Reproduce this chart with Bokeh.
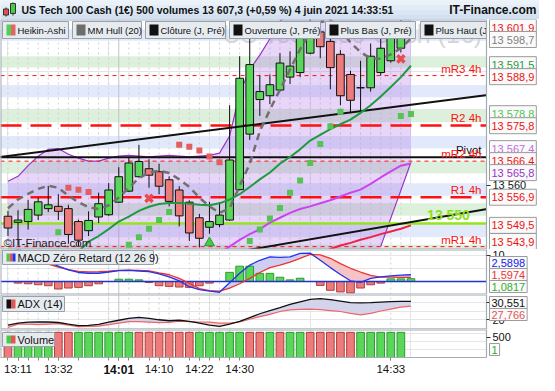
import math
import numpy as np
from bokeh.plotting import figure
from bokeh.models import Range1d, LinearAxis, FixedTicker, Label
from bokeh.layouts import column
from bokeh.embed import file_html
from bokeh.resources import INLINE
from bokeh.core.properties import value

nan = float("nan")

# ======================= DATA =======================
TITLE = "US Tech 100 Cash (1€) 500 volumes 13 607,3 (+0,59 %) 4 juin 2021 14:33:51"
SITE = "IT-Finance.com"
WATERMARK = "US Tech 100 Cash (1€)"
COPYRIGHT = "©IT-Finance.com"
legend_names = ["Heikin-Ashi", "MM Hull (20)", "Clôture (J, Pré)", "Ouverture (J, Pré)",
                "Plus Bas (J, Pré)", "Plus Haut (J, Pré)"]

candle_idx = list(range(40))
ind_idx = list(range(41))

ha_open = [13551.9, 13550.3, 13550.5, 13552.2, 13553.9, 13554.5, 13553.9, 13550.5, 13548.1, 13551.7,
           13552.3, 13555.6, 13558.5, 13562.3, 13564.4, 13563.6, 13561.5, 13558.8, 13555.6, 13551.5,
           13549.0, 13549.7, 13550.9, 13558.9, 13573.5, 13582.6, 13583.6, 13585.1, 13588.5, 13589.7,
           13594.8, 13600.4, 13597.9, 13594.5, 13589.2, 13585.7, 13585.7, 13589.7, 13592.8, 13596.1]
ha_high = [13553.3, 13553.5, 13556.2, 13556.8, 13559.9, 13557.7, 13554.9, 13551.0, 13553.2, 13558.1,
           13560.6, 13564.8, 13567.4, 13570.7, 13566.9, 13565.7, 13562.4, 13559.8, 13556.1, 13552.5,
           13555.7, 13555.6, 13581.1, 13594.0, 13598.6, 13589.0, 13589.2, 13594.8, 13595.3, 13603.2,
           13605.0, 13602.4, 13598.6, 13595.6, 13590.2, 13592.8, 13597.3, 13598.6, 13603.0, 13603.5]
ha_low = [13546.7, 13544.2, 13548.4, 13550.9, 13553.0, 13550.9, 13544.7, 13544.0, 13546.7, 13550.1,
          13552.0, 13555.4, 13558.3, 13562.1, 13559.4, 13557.7, 13554.5, 13549.2, 13545.4, 13543.7,
          13547.3, 13549.0, 13550.7, 13558.7, 13572.0, 13578.3, 13581.4, 13584.7, 13586.7, 13588.5,
          13594.5, 13593.5, 13585.3, 13581.1, 13579.2, 13579.2, 13584.7, 13588.9, 13592.3, 13595.0]
ha_close = [13548.8, 13550.9, 13553.7, 13555.7, 13554.9, 13553.2, 13547.1, 13545.6, 13550.8, 13555.2,
            13558.8, 13562.3, 13565.9, 13566.3, 13562.7, 13559.8, 13555.8, 13552.0, 13547.5, 13546.1,
            13550.5, 13552.2, 13566.7, 13588.2, 13591.8, 13584.7, 13586.5, 13592.2, 13591.4, 13599.4,
            13602.6, 13596.5, 13591.0, 13583.6, 13582.4, 13585.7, 13594.0, 13596.1, 13601.1, 13601.5]

hull20 = [13554.0, 13556.3, 13557.8, 13559.1, 13559.9, 13559.4, 13557.3, 13555.6, 13554.3, 13553.8,
          13554.8, 13556.8, 13559.4, 13561.9, 13563.4, 13563.9, 13563.3, 13561.6, 13559.6, 13556.8,
          13554.5, 13552.8, 13554.0, 13559.9, 13565.7, 13574.3, 13579.9, 13585.2, 13590.5, 13595.8,
          13600.4, 13603.0, 13603.5, 13601.0, 13597.6, 13595.1, 13593.4, 13593.3, 13594.5, 13596.1,
          13598.7]
ma_green = [13538.5, 13538.9, 13539.3, 13539.8, 13540.4, 13541.0, 13541.7, 13542.6, 13545.2, 13546.7,
            13548.5, 13550.5, 13551.8, 13553.3, 13554.4, 13555.1, 13555.4, 13555.4, 13555.2, 13554.9,
            13554.8, 13555.3, 13556.3, 13557.7, 13559.6, 13561.6, 13563.4, 13565.7, 13567.5, 13569.5,
            13571.8, 13573.3, 13574.8, 13576.1, 13577.3, 13579.1, 13581.1, 13583.4, 13585.9, 13588.5,
            13591.5]
env_upper = [13561.1, 13562.4, 13565.2, 13567.7, 13569.5, 13569.7, 13568.2, 13567.2, 13566.4, 13566.4,
             13567.2, 13567.7, 13567.9, 13567.7, 13567.5, 13567.7, 13567.9, 13567.7, 13567.5, 13567.7,
             13567.9, 13568.5, 13573.0, 13584.2, 13590.5, 13594.3, 13598.6, 13603.2, 13606.0, 13608.5,
             13610.5, 13611.5, 13612.0, 13612.0, 13611.5, 13611.0, 13610.5, 13610.0, 13609.5, 13609.0,
             13608.5]
env_lower = [nan, nan, nan, nan, nan, nan, nan, nan, nan, nan,
             nan, nan, nan, nan, nan, nan, nan, nan, nan, nan,
             nan, nan, nan, nan, nan, nan, nan, nan, nan, nan,
             nan, nan, nan, nan, nan, nan, nan, 13543.9, 13551.4, 13558.7,
             13566.1]
line_magenta = [nan, nan, nan, nan, nan, nan, nan, nan, nan, nan,
                nan, nan, nan, nan, nan, nan, nan, nan, nan, nan,
                13540.0, 13542.2, 13543.9, 13545.7, 13547.2, 13548.5, 13550.2, 13551.5, 13552.8, 13553.8,
                13554.5, 13555.3, 13556.1, 13557.1, 13558.1, 13558.9, 13560.4, 13562.1, 13563.7, 13565.2,
                13565.8]
line_red = [nan, nan, nan, nan, nan, nan, nan, nan, nan, nan,
            nan, nan, nan, nan, nan, nan, nan, nan, nan, nan,
            nan, nan, nan, nan, nan, nan, nan, nan, nan, nan,
            nan, 13541.5, 13543.3, 13544.2, 13544.9, 13545.7, 13546.4, 13547.2, 13547.9, 13548.6,
            13549.5]
sar_up = [nan, nan, nan, nan, nan, 13547.7, nan, nan, nan, nan,
          nan, nan, 13544.4, 13546.4, 13548.6, 13550.9, 13553.0, nan, nan, nan,
          nan, nan, nan, nan, 13545.4, 13548.4, 13551.3, 13554.1, 13558.1, 13561.3,
          13565.9, 13570.9, 13575.6, 13579.4, nan, nan, nan, nan, nan, 13578.3,
          13578.8]
sar_down = [nan, nan, nan, nan, nan, nan, 13559.4, 13558.9, 13558.3, nan,
            nan, nan, nan, nan, nan, nan, nan, 13570.7, 13570.2, 13569.2,
            13567.6, 13566.1, nan, nan, nan, nan, nan, nan, nan, nan,
            nan, nan, nan, nan, nan, nan, nan, nan, nan, nan,
            nan]

sig_cross_idx = [14, 39]
sig_cross_price = [13556.6, 13593.3]
sig_up_idx = [20]
sig_up_price = [13544.9]

trend_up_idx = [-1, 48]
trend_up_price = [13567.4, 13583.9]
trend_dn_idx = [20, 48]
trend_dn_price = [13541.3, 13554.0]

level_names = ["mR3 4h", "R2 4h", "Pivot", "mR2 4h", "R1 4h", "13 550", "mR1 4h"]
level_values = [13588.9, 13575.8, 13567.4, 13566.4, 13556.9, 13550.0, 13543.9]
level_kind = ["minor", "major", "pivot", "minor", "major", "round", "minor"]

band_lo = [13598.1, 13591.0, 13583.2, 13576.6, 13569.7, 13563.2, 13557.3, 13552.0, 13546.4, 13541.0]
band_hi = [13601.1, 13594.0, 13586.4, 13579.9, 13573.0, 13566.4, 13560.6, 13555.3, 13550.0, 13544.4]
band_kind = ["b", "g", "b", "g", "b", "g", "b", "g", "b", "g"]

macd = [13.5, 12.3, 11.1, 9.6, 7.4, 5.88, 4.49, 3.45, 3.15, 3.15,
        3.63, 4.19, 4.27, 4.01, 3.82, 2.88, 1.76, 0.26, -1.99, -3.11,
        -3.67, -4.12, -0.49, 3.15, 6.25, 8.13, 9.44, 9.25, 9.44, 10.75,
        10.86, 8.13, 5.32, 2.70, 0.26, -0.30, 1.20, 1.76, 2.13, 2.43,
        2.59]
macd_signal = [11.12, 10.0, 8.88, 7.75, 6.63, 5.51, 4.57, 3.90, 3.71, 3.75,
               3.93, 4.27, 4.38, 4.27, 4.08, 3.26, 2.58, 1.20, -0.67, -2.73,
               -3.48, -3.67, -2.55, -0.86, 1.20, 3.45, 5.32, 6.25, 7.38, 8.88,
               10.37, 10.19, 8.88, 6.82, 5.06, 3.63, 2.32, 1.65, 1.65, 1.61,
               1.60]
macd_hist = [0.0, -0.62, -0.87, -1.25, -1.62, -2.87, -2.5, -2.25, -1.62, -0.87,
             0.0, 0.87, 0.87, 0.62, -0.37, -1.62, -1.87, -2.12, -2.25, -1.62,
             -0.62, 0.0, 3.5, 5.87, 5.87, 3.12, 3.12, 1.62, 0.62, 1.25,
             0.0, -1.5, -3.37, -4.0, -4.37, -2.5, -1.25, -0.62, 1.0, 1.0,
             1.08]

adx = [16.94, 18.06, 18.61, 18.72, 18.72, 18.44, 17.5, 16.67, 16.78, 17.33,
       18.61, 19.72, 20.83, 21.39, 20.83, 20.0, 19.44, 19.72, 19.06, 18.06,
       16.94, 16.28, 17.5, 19.06, 21.28, 23.44, 25.28, 26.94, 28.78, 30.28,
       31.67, 32.06, 31.5, 30.67, 29.83, 29.61, 29.83, 30.11, 30.39, 30.5,
       30.55]
adx_red = [15.56, 17.5, 17.5, 17.22, 17.5, 17.78, 16.94, 16.11, 16.22, 16.39,
           17.22, 18.06, 18.89, 18.89, 18.61, 18.33, 18.44, 19.17, 18.89, 18.72,
           18.61, 18.06, 18.06, 18.72, 20.28, 21.78, 23.06, 24.72, 25.67, 25.94,
           26.11, 25.83, 25.28, 24.72, 23.61, 22.78, 23.61, 25.0, 26.11, 27.22,
           27.77]

volume = [620, 620, 620, 620, 620, 620, 620, 620, 620, 620,
          620, 620, 620, 620, 620, 620, 620, 620, 620, 620,
          620, 620, 620, 620, 620, 620, 620, 620, 620, 620,
          620, 620, 620, 620, 620, 620, 620, 620, 620, 620]
vol_up = [0, 1, 1, 1, 1, 0, 0, 1, 1, 1,
          1, 1, 1, 0, 0, 0, 0, 0, 0, 1,
          1, 1, 1, 1, 0, 0, 1, 0, 1, 1,
          0, 0, 0, 0, 0, 1, 1, 1, 1, 1]

tick_idx = [1, 5, 11, 15, 19, 23, 38]
tick_labels = ["13:11", "13:32", "14:01", "14:10", "14:22", "14:30", "14:33"]
minor_idx = [0, 1, 2, 3, 4, 5, 7, 10, 11, 12, 14, 15, 16, 18, 19, 20, 21, 22, 38]
session_idx = 11

price_tags = [(13601.9, "13 601,9", "#ee1111"), (13598.7, "13 598,7", "#808080"),
              (13591.5, "13 591,5", "#1f9a40"), (13588.9, "13 588,9", "#ee1111"),
              (13578.8, "13 578,8", "#55c455"), (13575.8, "13 575,8", "#ee1111"),
              (13567.4, "13 567,4", "#c070dd"), (13566.4, "13 566,4", "#ee1111"),
              (13565.8, "13 565,8", "#9933cc"), (13556.9, "13 556,9", "#ee1111"),
              (13549.5, "13 549,5", "#ee1111"), (13543.9, "13 543,9", "#ee1111")]
macd_tags = [(2.5898, "2,5898", "#1122ee"), (1.5974, "1,5974", "#ee3333"), (1.0817, "1,0817", "#33aa33")]
adx_tags = [(30.551, "30,551", "#111111"), (27.766, "27,766", "#e05555")]
vol_tags = [(1, "1", "#33aa33")]

# ======================= LAYOUT / STYLE =======================
FONT = "Liberation Sans"
W, RW = 539, 53
FW = W - RW
H_TITLE, H_MAIN, H_MACD, H_ADX, H_VOL, H_XAX = 19, 230, 45, 35, 46, 18
XR0, XR1 = -0.74, 47.5
XF1 = XR0 + (XR1 - XR0) * W / FW
XR = Range1d(XR0, XF1)
P_LO, P_HI = 13543.15, 13603.66
M_LO, M_HI = -4.98, 12.25
A_LO, A_HI = 14.44, 34.44
V_LO, V_HI = 0, 690
V_FULL_LO = V_LO - (V_HI - V_LO) * H_XAX / (H_VOL - H_XAX)

GREEN, GREEN_D = "#5ad65a", "#2f9a2f"
RED, RED_D = "#ee7b7b", "#b23c3c"
FRAME = "#a3acb6"


def xpx(px):
    return XR0 + px * (XR1 - XR0) / FW


def ypx(px, lo, hi, h):
    return hi - px * (hi - lo) / h


def panel(h, lo, hi):
    p = figure(width=W, height=h, x_range=XR, y_range=Range1d(lo, hi),
               output_backend="svg", toolbar_location=None, title_location=None,
               x_axis_location=None, y_axis_location=None, min_border=0)
    p.outline_line_color = None
    p.background_fill_color = "white"
    p.border_fill_color = "white"
    return p


def finish_panel(p, lo, hi, full_lo):
    # plain area to the right of the plotting region (axis side) and below it
    p.quad(left=[XR1], right=[XF1], bottom=[full_lo], top=[hi], fill_color="white", line_color=None)
    if full_lo < lo:
        p.quad(left=[XR0], right=[XF1], bottom=[full_lo], top=[lo], fill_color="white", line_color=None)
    p.segment(x0=[XR0], y0=[hi], x1=[XR1], y1=[hi], line_color=FRAME, line_width=2)
    p.segment(x0=[XR0], y0=[lo], x1=[XR1], y1=[lo], line_color=FRAME,
              line_width=1.2 if full_lo < lo else 2)
    p.segment(x0=[XR1], y0=[lo], x1=[XR1], y1=[hi], line_color=FRAME, line_width=1.2)
    p.segment(x0=[XR0], y0=[lo], x1=[XR0], y1=[hi], line_color=FRAME, line_width=2)


def right_axis(p, ticks, labels):
    ax = LinearAxis(ticker=FixedTicker(ticks=ticks), major_label_overrides=dict(zip(ticks, labels)),
                    fixed_location=XR1)
    ax.axis_line_color = None
    ax.major_tick_in = 0
    ax.major_tick_out = 4
    ax.minor_tick_line_color = None
    ax.major_tick_line_color = "#333333"
    ax.major_label_standoff = 2
    ax.major_label_text_font = FONT
    ax.major_label_text_font_size = "11px"
    ax.major_label_text_color = "#111111"
    p.add_layout(ax, "right")


def place_tags(vals, lo, hi, h, gap=12.0, margin=8.0):
    ppu = h / (hi - lo)
    pix = [(hi - v) * ppu for v in vals]
    order = sorted(range(len(vals)), key=lambda k: pix[k])
    pos = [pix[k] for k in order]
    for _ in range(300):
        moved = False
        for j in range(1, len(pos)):
            d = pos[j] - pos[j - 1]
            if d < gap - 1e-6:
                s = (gap - d) / 2
                pos[j - 1] -= s
                pos[j] += s
                moved = True
        for j in range(len(pos)):
            pos[j] = min(max(pos[j], margin), h - margin)
        if not moved:
            break
    out = [0.0] * len(vals)
    for j, k in enumerate(order):
        out[k] = hi - pos[j] / ppu
    return out


def add_tags(p, tags, lo, hi, h):
    disp = place_tags([t[0] for t in tags], lo, hi, h)
    for yd, (v, txt, col) in zip(disp, tags):
        p.add_layout(Label(x=XR1, y=yd, x_offset=3, text=txt, text_color=col,
                           text_font=FONT, text_font_size="11px", text_baseline="middle",
                           text_align="left", background_fill_color="#fafafa",
                           border_line_color="#9c9c9c", padding=2))


def legend_box(p, lo, hi, h, left, right, top, bottom, text, icon_colors, size="9.5px"):
    p.quad(left=[xpx(left)], right=[xpx(right)], top=[ypx(top, lo, hi, h)],
           bottom=[ypx(bottom, lo, hi, h)], fill_color="#e6ebf0", line_color="#98a1ab")
    n = len(icon_colors)
    iw = 9.0
    for k, c in enumerate(icon_colors):
        p.quad(left=[xpx(left + 4 + k * iw / n)], right=[xpx(left + 4 + (k + 1) * iw / n)],
               top=[ypx(top + 3, lo, hi, h)], bottom=[ypx(bottom - 3, lo, hi, h)],
               fill_color=c, line_color=None)
    p.text(x=[xpx(left + 15)], y=[ypx((top + bottom) / 2.0, lo, hi, h)], text=[text],
           text_font=value(FONT), text_font_size=size, text_baseline="middle",
           text_color="#111111")


def vgrid(p, xs, lo, hi):
    p.segment(x0=xs, y0=lo, x1=xs, y1=hi, line_color="#d2d2d2", line_dash="2 3", line_width=1)
    p.segment(x0=[session_idx], y0=lo, x1=[session_idx], y1=hi, line_color="#c4c4c4", line_width=1)


# ======================= TITLE BAR =======================
pt = figure(width=W, height=H_TITLE, x_range=Range1d(0, W), y_range=Range1d(0, H_TITLE),
            output_backend="svg", toolbar_location=None, title_location=None,
            x_axis_location=None, y_axis_location=None, min_border=0)
pt.outline_line_color = None
pt.background_fill_color = "#dbe7f4"
pt.border_fill_color = "#dbe7f4"
grad = ["#eaf1f9", "#e2ecf7", "#d9e6f3", "#d2e1f1"]
for k, c in enumerate(grad):
    pt.quad(left=0, right=W, bottom=H_TITLE * (3 - k) / 4.0, top=H_TITLE * (4 - k) / 4.0,
            fill_color=c, line_color=None)
pt.segment(x0=[5.5, 12.5], y0=[3, 4], x1=[5.5, 12.5], y1=[12, 17], line_color="#222222")
pt.quad(left=[3, 10], right=[8, 15], bottom=[4.5, 6], top=[10.5, 16], fill_color=["#e05050", "#44cc44"],
        line_color="#333333")
pt.add_layout(Label(x=21, y=H_TITLE / 2.0, text=TITLE, text_font=FONT, text_font_style="bold",
                    text_font_size="10.5px", text_baseline="middle", text_color="#111111"))
pt.add_layout(Label(x=W - 3, y=H_TITLE / 2.0, text=SITE, text_font=FONT, text_font_style="bold",
                    text_font_size="12px", text_baseline="middle", text_align="right",
                    text_color="#111111"))

# ======================= MAIN PRICE PANEL =======================
pm = panel(H_MAIN, P_LO, P_HI)
band_col = ["#e2e9fb" if k == "b" else "#dcf0dc" for k in band_kind]
pm.quad(left=XR0, right=XR1, bottom=band_lo, top=band_hi, fill_color=band_col, line_color=None)
vgrid(pm, [i for i in candle_idx if i != session_idx], P_LO, P_HI)

pm.text(x=[xpx(482)], y=[ypx(28, P_LO, P_HI, H_MAIN)], text=[WATERMARK], text_font=value(FONT),
        text_font_size="25px", text_align="right", text_baseline="bottom", text_color="#d6d6d6")

lower_fill = [P_LO - 10 if math.isnan(v) else v for v in env_lower]
pm.varea(x=ind_idx, y1=lower_fill, y2=env_upper, fill_color="#9955dd", fill_alpha=0.24)
pm.line(ind_idx, env_upper, line_color="#9932cc", line_width=1.2)
pm.line(ind_idx, env_lower, line_color="#9932cc", line_width=1.2)

for v, k in zip(level_values, level_kind):
    if k == "minor":
        pm.segment(x0=[XR0], y0=[v], x1=[XR1], y1=[v], line_color="#ff1010", line_width=1, line_dash="4 4")
    elif k == "major":
        pm.segment(x0=[XR0], y0=[v], x1=[XR1], y1=[v], line_color="#ff1010", line_width=2.5, line_dash="21 9")
    elif k == "pivot":
        pm.segment(x0=[XR0], y0=[v], x1=[XR1], y1=[v], line_color="#111111", line_width=2)
    else:
        pm.segment(x0=[XR0], y0=[v], x1=[XR1], y1=[v], line_color="#93e61c", line_width=2.5)

# candles
body_top = [max(o, c) for o, c in zip(ha_open, ha_close)]
body_bot = [min(o, c) for o, c in zip(ha_open, ha_close)]
body_col = [GREEN if c > o else (RED if c < o else "#111111") for o, c in zip(ha_open, ha_close)]
pm.segment(x0=candle_idx, y0=ha_low, x1=candle_idx, y1=ha_high, line_color="#111111", line_width=1)
pm.vbar(x=candle_idx, width=0.76, top=body_top, bottom=body_bot, fill_color=body_col,
        line_color="#111111", line_width=1)

pm.line(trend_up_idx, trend_up_price, line_color="#111111", line_width=2)
pm.line(trend_dn_idx, trend_dn_price, line_color="#111111", line_width=2)
pm.line(ind_idx, line_red, line_color="#ee2244", line_width=2)
pm.line(ind_idx, line_magenta, line_color="#cc44ee", line_width=2)
pm.line(ind_idx, ma_green, line_color="#1f9a40", line_width=2)
pm.line(ind_idx, hull20, line_color="#707070", line_width=2.5, line_dash="7 5")

pm.scatter(ind_idx, sar_up, marker="square", size=6, fill_color="#55c455", line_color=None)
pm.scatter(ind_idx, sar_down, marker="square", size=6, fill_color="#e06060", line_color=None)
pm.scatter(sig_cross_idx, sig_cross_price, marker="x", size=10, line_color="#e84c4c", line_width=3.5)
pm.scatter(sig_up_idx, sig_up_price, marker="triangle", size=10, fill_color="#44cc44",
           line_color="#2a9a2a")

for name, v, k in zip(level_names, level_values, level_kind):
    if k == "round":
        pm.text(x=[xpx(448)], y=[v], text=[name], text_font=value(FONT), text_font_style="bold",
                text_font_size="14px", text_align="center", text_baseline="bottom", text_color="#8ee01a")
    else:
        pm.text(x=[xpx(481)], y=[v], y_offset=-1, text=[name], text_font=value(FONT),
                text_font_size="11.5px", text_align="right", text_baseline="bottom",
                text_color="#111111" if k == "pivot" else "#ff1010")

pm.text(x=[xpx(3)], y=[P_LO], y_offset=-1, text=[COPYRIGHT], text_font=value(FONT),
        text_font_size="11.5px", text_baseline="bottom", text_color="#222222")

leg_lr = [(2, 68), (72, 141), (145, 225), (229, 320), (325, 415), (420, 492)]
leg_icons = [["#55cc55", "#e06666"], ["#6e6e6e"], ["#111111"], ["#111111"], ["#111111"], ["#111111"]]
for (l, r), name, ic in zip(leg_lr, legend_names, leg_icons):
    legend_box(pm, P_LO, P_HI, H_MAIN, l, r, 2, 19, name, ic)

finish_panel(pm, P_LO, P_HI, P_LO)
right_axis(pm, [13560], ["13 560"])
add_tags(pm, price_tags, P_LO, P_HI, H_MAIN)

# ======================= MACD PANEL =======================
pmc = panel(H_MACD, M_LO, M_HI)
vgrid(pmc, [i for i in minor_idx if i != session_idx], M_LO, M_HI)
m = np.array(macd)
s = np.array(macd_signal)
pmc.varea(x=ind_idx, y1=m, y2=np.maximum(m, s), fill_color="#f6c4c4")
pmc.varea(x=ind_idx, y1=m, y2=np.minimum(m, s), fill_color="#cfcdf0")
hx = [i for i, v in enumerate(macd_hist) if v != 0]
hv = [macd_hist[i] for i in hx]
pmc.vbar(x=hx, width=0.76, top=hv, bottom=0,
         fill_color=[GREEN if v > 0 else RED for v in hv],
         line_color=[GREEN_D if v > 0 else RED_D for v in hv])
pmc.segment(x0=[XR0], y0=[0], x1=[XR1], y1=[0], line_color="#2233cc", line_width=1.5)
pmc.line(ind_idx, macd_signal, line_color="#ee3333", line_width=1.3)
pmc.line(ind_idx, macd, line_color="#2233ee", line_width=1.3)
legend_box(pmc, M_LO, M_HI, H_MACD, 2, 153, 1, 15, "MACD Zéro Retard (12 26 9)",
           ["#44cc44", "#e05555", "#2233ee"], size="11px")
finish_panel(pmc, M_LO, M_HI, M_LO)
right_axis(pmc, [10], ["10"])
add_tags(pmc, macd_tags, M_LO, M_HI, H_MACD)

# ======================= ADX PANEL =======================
pa = panel(H_ADX, A_LO, A_HI)
vgrid(pa, [i for i in minor_idx if i != session_idx], A_LO, A_HI)
a = np.array(adx)
r = np.array(adx_red)
pa.varea(x=ind_idx, y1=a, y2=np.minimum(a, r), fill_color="#d3d3ec")
pa.varea(x=ind_idx, y1=a, y2=np.maximum(a, r), fill_color="#f3d2d6")
pa.line(ind_idx, adx_red, line_color="#ee6666", line_width=1.2)
pa.line(ind_idx, adx, line_color="#111111", line_width=1.3)
legend_box(pa, A_LO, A_HI, H_ADX, 2, 64, 2, 17, "ADX (14)", ["#111111", "#e05555"], size="11px")
finish_panel(pa, A_LO, A_HI, A_LO)
right_axis(pa, [20, 30], ["20", "30"])
add_tags(pa, adx_tags, A_LO, A_HI, H_ADX)

# ======================= VOLUME PANEL =======================
pv = panel(H_VOL, V_FULL_LO, V_HI)
vgrid(pv, [i for i in minor_idx if i != session_idx], V_LO, V_HI)
pv.vbar(x=candle_idx, width=0.76, top=volume, bottom=0,
        fill_color=[GREEN if u else RED for u in vol_up],
        line_color=[GREEN_D if u else RED_D for u in vol_up])
legend_box(pv, V_LO, V_HI, H_VOL - H_XAX, 2, 54, 3, 17, "Volume", ["#44cc44", "#e05555"], size="11px")
finish_panel(pv, V_LO, V_HI, V_FULL_LO)
right_axis(pv, [500], ["500"])
add_tags(pv, vol_tags, V_LO, V_HI, H_VOL - H_XAX)

overrides = {t: ("" if t == session_idx else lab) for t, lab in zip(tick_idx, tick_labels)}
xa = LinearAxis(ticker=FixedTicker(ticks=tick_idx, minor_ticks=minor_idx),
                major_label_overrides=overrides, fixed_location=V_LO)
xa.axis_line_color = None
xa.major_tick_in = 0
xa.major_tick_out = 3
xa.minor_tick_in = 0
xa.minor_tick_out = 3
xa.major_tick_line_color = "#888888"
xa.minor_tick_line_color = "#888888"
xa.major_label_standoff = 2
xa.major_label_text_font = FONT
xa.major_label_text_font_size = "11.5px"
xa.major_label_text_color = "#111111"
pv.add_layout(xa, "below")
pv.add_layout(Label(x=session_idx, y=V_LO, y_offset=-5, text=tick_labels[tick_idx.index(session_idx)],
                    text_font=FONT, text_font_style="bold", text_font_size="12px",
                    text_baseline="top", text_align="center", text_color="#111111"))

layout = column(pt, pm, pmc, pa, pv)
open("out.html", "w").write(file_html(layout, INLINE))
